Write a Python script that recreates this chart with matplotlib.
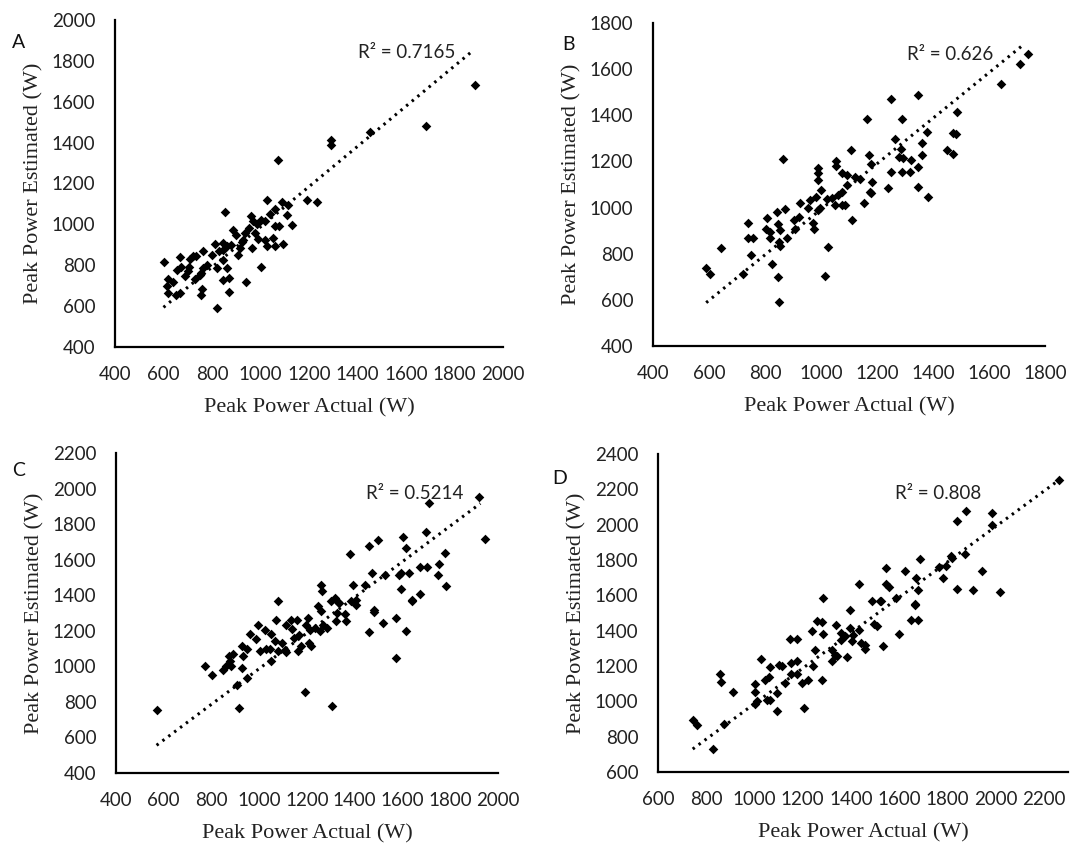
import numpy as np
import matplotlib
matplotlib.use("Agg")
import matplotlib.pyplot as plt

# ---- data ----
a_actual = [600, 620, 616, 620, 651, 668, 640, 657, 674, 670, 688, 706, 709, 722, 736, 729, 750,
            764, 761, 754, 757, 753, 799, 813, 819, 822, 844, 847, 847, 847, 854, 860, 863, 871,
            871, 888, 901, 908, 915, 922, 929, 942, 954, 959, 963, 970, 977, 991, 1000, 1004, 1018,
            1025, 1018, 1028, 1052, 1059, 1059, 1059, 1077, 1087, 1093, 1114, 1111, 1128, 1190,
            1234, 1073, 1289, 1289, 1451, 1682, 1884, 700, 780, 830, 880, 935, 985, 1040]
a_est = [817, 734, 697, 664, 656, 664, 716, 775, 791, 838, 746, 791, 831, 846, 843, 734, 754,
         786, 868, 762, 685, 653, 851, 905, 786, 589, 729, 827, 876, 908, 1060, 786, 892, 738,
         667, 974, 949, 851, 884, 916, 925, 718, 982, 1039, 884, 1015, 957, 928, 789, 1023, 1015,
         892, 925, 1117, 933, 990, 892, 1075, 990, 1108, 905, 1096, 1047, 998, 1120,
         1109, 1316, 1413, 1389, 1454, 1482, 1682, 770, 800, 870, 900, 960, 1000, 1050]

b_actual = [590, 605, 644, 721, 738, 741, 757, 750, 807, 805, 817, 819, 825, 842, 846, 850, 853,
            855, 847, 851, 870, 880, 903, 906, 920, 926, 955, 961, 973, 976, 983, 988, 995, 1000,
            1013, 1021, 1024, 1039, 1051, 1059, 1075, 1075, 1087, 1093, 1110, 1152, 1176, 1182,
            1238, 1348, 1381, 866, 988, 988, 988, 1054, 1054, 1075, 1093, 1107, 1122, 1140, 1166,
            1172, 1178, 1178, 1251, 1251, 1265, 1289, 1285, 1277, 1293, 1321, 1289, 1318, 1345,
            1348, 1360, 1360, 1378, 1449, 1470, 1482, 1470, 1487, 1643, 1709, 1738]
b_est = [739, 712, 823, 712, 931, 870, 870, 794, 956, 905, 895, 866, 755, 982, 927, 852, 903,
         833, 700, 592, 992, 870, 945, 905, 960, 1018, 996, 1032, 931, 909, 1046, 988, 998, 1075,
         703, 1039, 827, 1043, 1010, 1054, 1068, 1010, 1010, 1097, 948, 1021, 1068, 1111,
         1083, 1087, 1044, 1209, 1172, 1151, 1119, 1200, 1180, 1148, 1140, 1248, 1133, 1126, 1383,
         1230, 1188, 1065, 1470, 1153, 1299, 1383, 1256, 1220, 1217, 1205, 1153, 1153, 1178,
         1490, 1278, 1230, 1328, 1248, 1325, 1319, 1232, 1415, 1536, 1623, 1667]

c_actual = [570, 772, 800, 849, 860, 874, 877, 883, 891, 905, 916, 926, 926, 933, 947, 947, 963,
            988, 994, 1005, 1023, 1030, 1044, 1051, 1051, 1065, 1072, 1079, 1097, 1106, 1113, 1113,
            1134, 1138, 1144, 1158, 1161, 1166, 1176, 1190, 1197, 1204, 1208, 1213, 1218, 1232,
            1246, 1253, 1260, 1267, 1284, 1302, 1305, 1323, 1327, 1334, 1358, 1365, 1386, 1407,
            1460, 1481, 1481, 1520, 1573, 1573, 1613, 1641, 1077, 1257, 1264, 1316, 1330, 1382,
            1391, 1407, 1442, 1460, 1473, 1497, 1525, 1587, 1595, 1593, 1602, 1616, 1626, 1641,
            1672, 1675, 1700, 1703, 1711, 1749, 1752, 1777, 1781, 1920, 1947]
c_est = [756, 1004, 949, 977, 1000, 1060, 1028, 1000, 1069, 897, 766, 990, 1112, 1056, 1097, 934,
         1182, 1154, 1234, 1084, 1206, 1097, 1097, 1182, 1028, 1141, 1259, 1084, 1131, 1093,
         1079, 1234, 1262, 1210, 1159, 1262, 1084, 1177, 1112, 855, 1234, 1272, 1131, 1206,
         1112, 1215, 1337, 1200, 1313, 1234, 1215, 1365, 779, 1253, 1300, 1356, 1293, 1253,
         1365, 1347, 1193, 1318, 1305, 1243, 1272, 1047, 1200, 1369, 1365, 1455, 1425, 1384,
         1360, 1634, 1455, 1375, 1455, 1677, 1527, 1709, 1516, 1515, 1524, 1435, 1728, 1666,
         1524, 1375, 1408, 1557, 1756, 1561, 1916, 1516, 1577, 1635, 1454, 1953, 1719]

d_actual = [744, 762, 830, 858, 860, 874, 912, 1004, 1004, 1004, 1011, 1025, 1045, 1052, 1059,
            1063, 1066, 1093, 1093, 1100, 1114, 1127, 1148, 1151, 1151, 1175, 1178, 1178, 1196,
            1205, 1221, 1238, 1241, 1251, 1258, 1278, 1282, 1286, 1322, 1322, 1333, 1340, 1344,
            1358, 1360, 1374, 1383, 1395, 1397, 1404, 1408, 1433, 1442, 1460, 1460, 1488, 1497,
            1507, 1532, 1522, 1600, 1648, 1666, 1679, 1285, 1433, 1525, 1545, 1545, 1556, 1586,
            1625, 1666, 1671, 1679, 1685, 1764, 1782, 1795, 1816, 1819, 1838, 1841, 1873, 1878,
            1908, 1945, 1984, 1984, 2018, 2262]
d_est = [896, 868, 732, 1157, 1108, 874, 1053, 1100, 1053, 987, 1000, 1240, 1123, 1009, 1138,
         1009, 1194, 1047, 943, 1208, 1198, 1104, 1353, 1217, 1157, 1353, 1226, 1157, 1104,
         962, 1123, 1396, 1202, 1292, 1453, 1447, 1123, 1381, 1292, 1226, 1264, 1434, 1255,
         1349, 1387, 1368, 1251, 1515, 1415, 1340, 1378, 1406, 1330, 1321, 1296, 1566, 1440,
         1425, 1311, 1566, 1383, 1458, 1547, 1458, 1585, 1664, 1568, 1755, 1664, 1645, 1585,
         1736, 1551, 1698, 1628, 1805, 1758, 1698, 1764, 1824, 1811, 2019, 1638, 1836, 2075,
         1628, 1736, 2066, 2000, 1619, 2251]

# linear trendlines as drawn in the figure (ends)
trend_x = [(600, 1879), (590, 1723), (570, 1926), (744, 2285)]
trend_y = [(594, 1853), (588, 1706), (556, 1916), (730, 2275)]

panel_letters = ["A", "B", "C", "D"]
r2_labels = ["R² = 0.7165", "R² = 0.626", "R² = 0.5214", "R² = 0.808"]
x_ticks = [range(400, 2001, 200), range(400, 1801, 200), range(400, 2001, 200), range(600, 2201, 200)]
y_ticks = [range(400, 2001, 200), range(400, 1801, 200), range(400, 2201, 200), range(600, 2401, 200)]
x_lims = [(400, 2000), (400, 1800), (400, 2000), (600, 2300)]
y_lims = [(400, 2000), (400, 1800), (400, 2200), (600, 2400)]

panels = [(a_actual, a_est), (b_actual, b_est), (c_actual, c_est), (d_actual, d_est)]

W, H = 1077, 847
fig = plt.figure(figsize=(W / 100, H / 100), dpi=100)

# pixel boxes: left, right, top, bottom
boxes = [(115, 503, 20, 347), (653, 1045, 23, 346), (116, 498, 453, 773), (658, 1068, 454, 772)]
r2_pos = [(1802, 1843), (1616, 1664), (1853, 1971), (1940, 2179)]
letter_pos = [(12, 42), (562, 44), (12, 470), (552, 479)]

tick_font = "Lato"
serif = "Liberation Serif"

for i, (xs, ys) in enumerate(panels):
    l, r, t, b = boxes[i]
    ax = fig.add_axes([l / W, 1 - b / H, (r - l) / W, (b - t) / H])
    ax.scatter(xs, ys, marker="D", s=24, color="black", linewidths=0, zorder=3)
    ax.plot(trend_x[i], trend_y[i], color="black", lw=2.2, linestyle=(0, (0.8, 1.6)), zorder=2)
    ax.set_xlim(*x_lims[i])
    ax.set_ylim(*y_lims[i])
    ax.set_xticks(list(x_ticks[i]))
    ax.set_yticks(list(y_ticks[i]))
    for s in ["top", "right"]:
        ax.spines[s].set_visible(False)
    for s in ["left", "bottom"]:
        ax.spines[s].set_linewidth(1.6)
    ax.tick_params(length=0, pad=14, labelsize=13.5, colors="#222222")
    for lab in ax.get_xticklabels() + ax.get_yticklabels():
        lab.set_fontfamily(tick_font)
    ax.set_xlabel("Peak Power Actual (W)", fontfamily=serif, fontsize=16, labelpad=11, color="#222222")
    ax.set_ylabel("Peak Power Estimated (W)", fontfamily=serif, fontsize=16, labelpad=6, color="#222222")
    ax.text(r2_pos[i][0], r2_pos[i][1], r2_labels[i], ha="right", va="center",
            fontfamily=tick_font, fontsize=13.5, color="#222222")
    lx, ly = letter_pos[i]
    fig.text(lx / W, 1 - ly / H, panel_letters[i], ha="left", va="center",
             fontfamily=tick_font, fontsize=14, color="#111111")

fig.savefig("out.png", dpi=100)
